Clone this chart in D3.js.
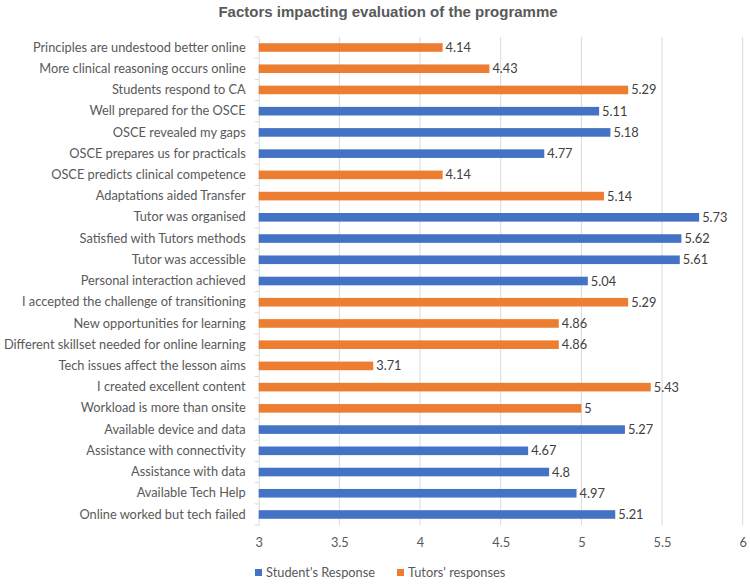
<!DOCTYPE html>
<html><head><meta charset="utf-8">
<script src="https://cdn.jsdelivr.net/npm/d3@7"></script>
<style>
body{margin:0;background:#fff;}
svg{display:block;}
</style></head>
<body>
<svg id="chart" width="750" height="584"></svg>
<script>
const categories = [
  "Principles are undestood better online",
  "More clinical reasoning occurs online",
  "Students respond to CA",
  "Well prepared for the OSCE",
  "OSCE revealed my gaps",
  "OSCE prepares us for practicals",
  "OSCE predicts clinical competence",
  "Adaptations aided Transfer",
  "Tutor was organised",
  "Satisfied with Tutors methods",
  "Tutor was accessible",
  "Personal interaction achieved",
  "I accepted the challenge of transitioning",
  "New opportunities for learning",
  "Different skillset needed for online learning",
  "Tech issues affect the lesson aims",
  "I created excellent content",
  "Workload is more than onsite",
  "Available device and data",
  "Assistance with connectivity",
  "Assistance with data",
  "Available Tech Help",
  "Online worked but tech failed"
];
const studentResponse = [null,null,null,5.11,5.18,4.77,null,null,5.73,5.62,5.61,5.04,null,null,null,null,null,null,5.27,4.67,4.8,4.97,5.21];
const tutorsResponses = [4.14,4.43,5.29,null,null,null,4.14,5.14,null,null,null,null,5.29,4.86,4.86,3.71,5.43,5,null,null,null,null,null];
const seriesNames = ["Student's Response","Tutors' responses"];
const xTicks = [3,3.5,4,4.5,5,5.5,6];

const colors = ["#4472C4","#ED7D31"];
const textColor = "#595959";
const labelFont = "Lato, 'Open Sans', sans-serif";
const fs = 12.8;

const svg = d3.select("#chart");
const x = d3.scaleLinear().domain([3,6]).range([258.7,742.7]);
const band = d3.scaleBand().domain(categories).range([36.9,525.1]);

// title
svg.append("text").attr("x",388).attr("y",17).attr("text-anchor","middle")
  .attr("font-family","'Liberation Sans', Arial, sans-serif").attr("font-weight","bold")
  .attr("font-size",15).attr("fill",textColor).text("Factors impacting evaluation of the programme");

// gridlines
svg.append("g").selectAll("line").data(xTicks.slice(1)).join("line")
  .attr("x1",d=>x(d)).attr("x2",d=>x(d)).attr("y1",36.9).attr("y2",525.1)
  .attr("stroke","#D9D9D9").attr("stroke-width",1);

// left axis
const yAxis = d3.axisLeft(band).tickSize(0).tickPadding(13);
const gy = svg.append("g").attr("transform","translate(258.7,0)").call(yAxis);
gy.select(".domain").attr("stroke","#D9D9D9");
gy.selectAll("text").attr("font-family",labelFont).attr("font-size",fs).attr("fill",textColor);
// category separator ticks
const bounds = categories.map(c=>band(c)).concat([band.range()[1]]);
svg.append("g").selectAll("line").data(bounds).join("line")
  .attr("x1",254.7).attr("x2",258.7).attr("y1",d=>d).attr("y2",d=>d)
  .attr("stroke","#D9D9D9");

// bottom axis labels
const xAxis = d3.axisBottom(x).tickValues(xTicks).tickSize(0).tickPadding(13).tickFormat(d3.format("~g"));
const gx = svg.append("g").attr("transform","translate(0,525.1)").call(xAxis);
gx.select(".domain").remove();
gx.selectAll("text").attr("font-family",labelFont).attr("font-size",fs).attr("fill",textColor);

// bars
const rows = categories.map((c,i)=>{
  const s = studentResponse[i]!=null ? 0 : 1;
  const v = s===0 ? studentResponse[i] : tutorsResponses[i];
  return {c, s, v};
});
const bh = 8.6;
svg.append("g").selectAll("rect").data(rows).join("rect")
  .attr("x",x(3)).attr("y",d=>band(d.c)+band.bandwidth()/2-bh/2)
  .attr("width",d=>x(d.v)-x(3)).attr("height",bh)
  .attr("fill",d=>colors[d.s]);

// data labels
svg.append("g").selectAll("text").data(rows).join("text")
  .attr("x",d=>x(d.v)+3).attr("y",d=>band(d.c)+band.bandwidth()/2+4.5)
  .attr("font-family",labelFont).attr("font-size",fs).attr("fill","#404040")
  .text(d=>d3.format("~g")(d.v));

// legend
const leg = svg.append("g").attr("transform","translate(255,573)");
const items = leg.selectAll("g").data(seriesNames).join("g")
  .attr("transform",(d,i)=>`translate(${i*142},0)`);
items.append("rect").attr("x",0).attr("y",-4).attr("width",7).attr("height",7).attr("fill",(d,i)=>colors[i]);
items.append("text").attr("x",11).attr("y",4).attr("font-family",labelFont).attr("font-size",fs)
  .attr("fill",textColor).text(d=>d);
</script>
</body></html>
